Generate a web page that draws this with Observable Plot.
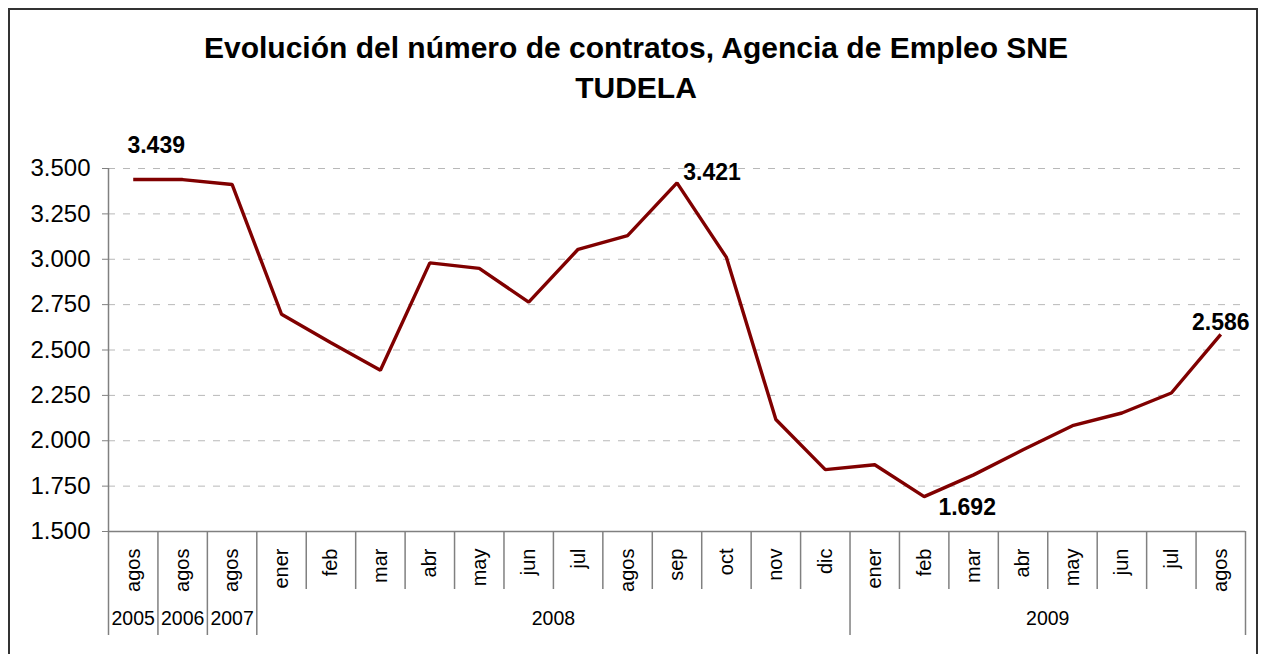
<!DOCTYPE html>
<html>
<head>
<meta charset="utf-8">
<script src="https://cdn.jsdelivr.net/npm/d3@7"></script>
<script src="https://cdn.jsdelivr.net/npm/@observablehq/plot@0.6"></script>
<style>
  html, body { margin: 0; padding: 0; background: #fff; }
  #wrap { position: relative; width: 1263px; height: 654px; overflow: hidden; font-family: "Liberation Sans", Arial, sans-serif; }
  #frame { position: absolute; left: 8px; top: 8px; width: 1250px; height: 700px; border: 2px solid #333; box-sizing: border-box; }
  #title { position: absolute; left: 0; top: 28px; width: 1263px; padding-left: 9px; box-sizing: border-box; text-align: center; font-weight: bold; font-size: 30px; line-height: 40px; color: #000; }
  #chart { position: absolute; left: 0; top: 0; }
</style>
</head>
<body>
<div id="wrap">
  <div id="frame"></div>
  <div id="chart"></div>
  <div id="title">Evolución del número de contratos, Agencia de Empleo SNE<br>TUDELA</div>
</div>
<script>
// ---- data ----
const months = ["agos","agos","agos","ener","feb","mar","abr","may","jun","jul","agos","sep","oct","nov","dic","ener","feb","mar","abr","may","jun","jul","agos"];
const years  = ["2005","2006","2007","2008","2008","2008","2008","2008","2008","2008","2008","2008","2008","2008","2008","2009","2009","2009","2009","2009","2009","2009","2009"];
const contratos = [3439,3439,3412,2697,2540,2388,2980,2950,2764,3055,3130,3421,3010,2117,1841,1868,1692,1812,1950,2083,2153,2263,2586];
const yTicks = [1500,1750,2000,2250,2500,2750,3000,3250,3500];
const labeled = [0, 11, 16, 22];

// ---- derived tables ----
const locale = d3.formatLocale({decimal: ",", thousands: ".", grouping: [3], currency: ["", ""]});
const fmt = locale.format(",.0f");
const rows = contratos.map((v, i) => ({i, pos: i + 0.5, month: months[i], year: years[i], value: v}));
const yearSpans = d3.groups(rows, d => d.year).map(([year, rs]) => ({
  year, start: d3.min(rs, r => r.i), end: d3.max(rs, r => r.i) + 1
}));
const monthBounds = d3.range(1, months.length).filter(i => years[i] === years[i - 1]);
const yearBounds = [0, ...yearSpans.map(s => s.end)];
const lab = k => [rows[labeled[k]]];

const font = "Liberation Sans, Arial, sans-serif";
const axisColor = "#808080";

const chart = Plot.plot({
  width: 1263,
  height: 654,
  marginLeft: 108,
  marginRight: 18,
  marginTop: 168,
  marginBottom: 123,
  style: {fontFamily: font, color: "#000", background: "transparent", overflow: "visible"},
  x: {type: "linear", domain: [0, months.length], axis: null},
  y: {domain: [1500, 3500], axis: null},
  marks: [
    Plot.gridY(yTicks.slice(1), {stroke: "#b8b8b8", strokeOpacity: 1, strokeWidth: 1, strokeDasharray: "7,8"}),
    Plot.axisY({ticks: yTicks, tickFormat: fmt, tickSize: 6, tickPadding: 12, fontSize: 24, stroke: axisColor, color: "#000", label: null}),
    Plot.ruleX([0], {stroke: axisColor, strokeWidth: 1.5}),
    Plot.ruleY([1500], {stroke: axisColor, strokeWidth: 1.5}),
    Plot.axisX({ticks: monthBounds, tickSize: 58, tickFormat: () => "", stroke: axisColor, strokeWidth: 1.5, label: null}),
    Plot.axisX({ticks: yearBounds, tickSize: 104, tickFormat: () => "", stroke: axisColor, strokeWidth: 1.5, label: null}),
    Plot.text(rows, {x: "pos", text: "month", frameAnchor: "bottom", rotate: -90, textAnchor: "end", lineAnchor: "middle", dy: 17, fontSize: 20, fill: "#000"}),
    Plot.text(yearSpans, {x: d => (d.start + d.end) / 2, text: "year", frameAnchor: "bottom", dy: 93, fontSize: 19.5, fill: "#000"}),
    Plot.line(rows, {x: "pos", y: "value", stroke: "#800000", strokeWidth: 3.4, strokeLinejoin: "miter", strokeLinecap: "butt"}),
    Plot.text(lab(0), {x: "pos", y: "value", text: d => fmt(d.value), dx: 23, dy: -34, fontSize: 23, fontWeight: "bold", fill: "#000"}),
    Plot.text(lab(1), {x: "pos", y: "value", text: d => fmt(d.value), dx: 35, dy: -10, fontSize: 23, fontWeight: "bold", fill: "#000"}),
    Plot.text(lab(2), {x: "pos", y: "value", text: d => fmt(d.value), dx: 43, dy: 11, fontSize: 23, fontWeight: "bold", fill: "#000"}),
    Plot.text(lab(3), {x: "pos", y: "value", text: d => fmt(d.value), dx: 0, dy: -12, fontSize: 23, fontWeight: "bold", fill: "#000"})
  ]
});
document.getElementById("chart").appendChild(chart);
</script>
</body>
</html>
